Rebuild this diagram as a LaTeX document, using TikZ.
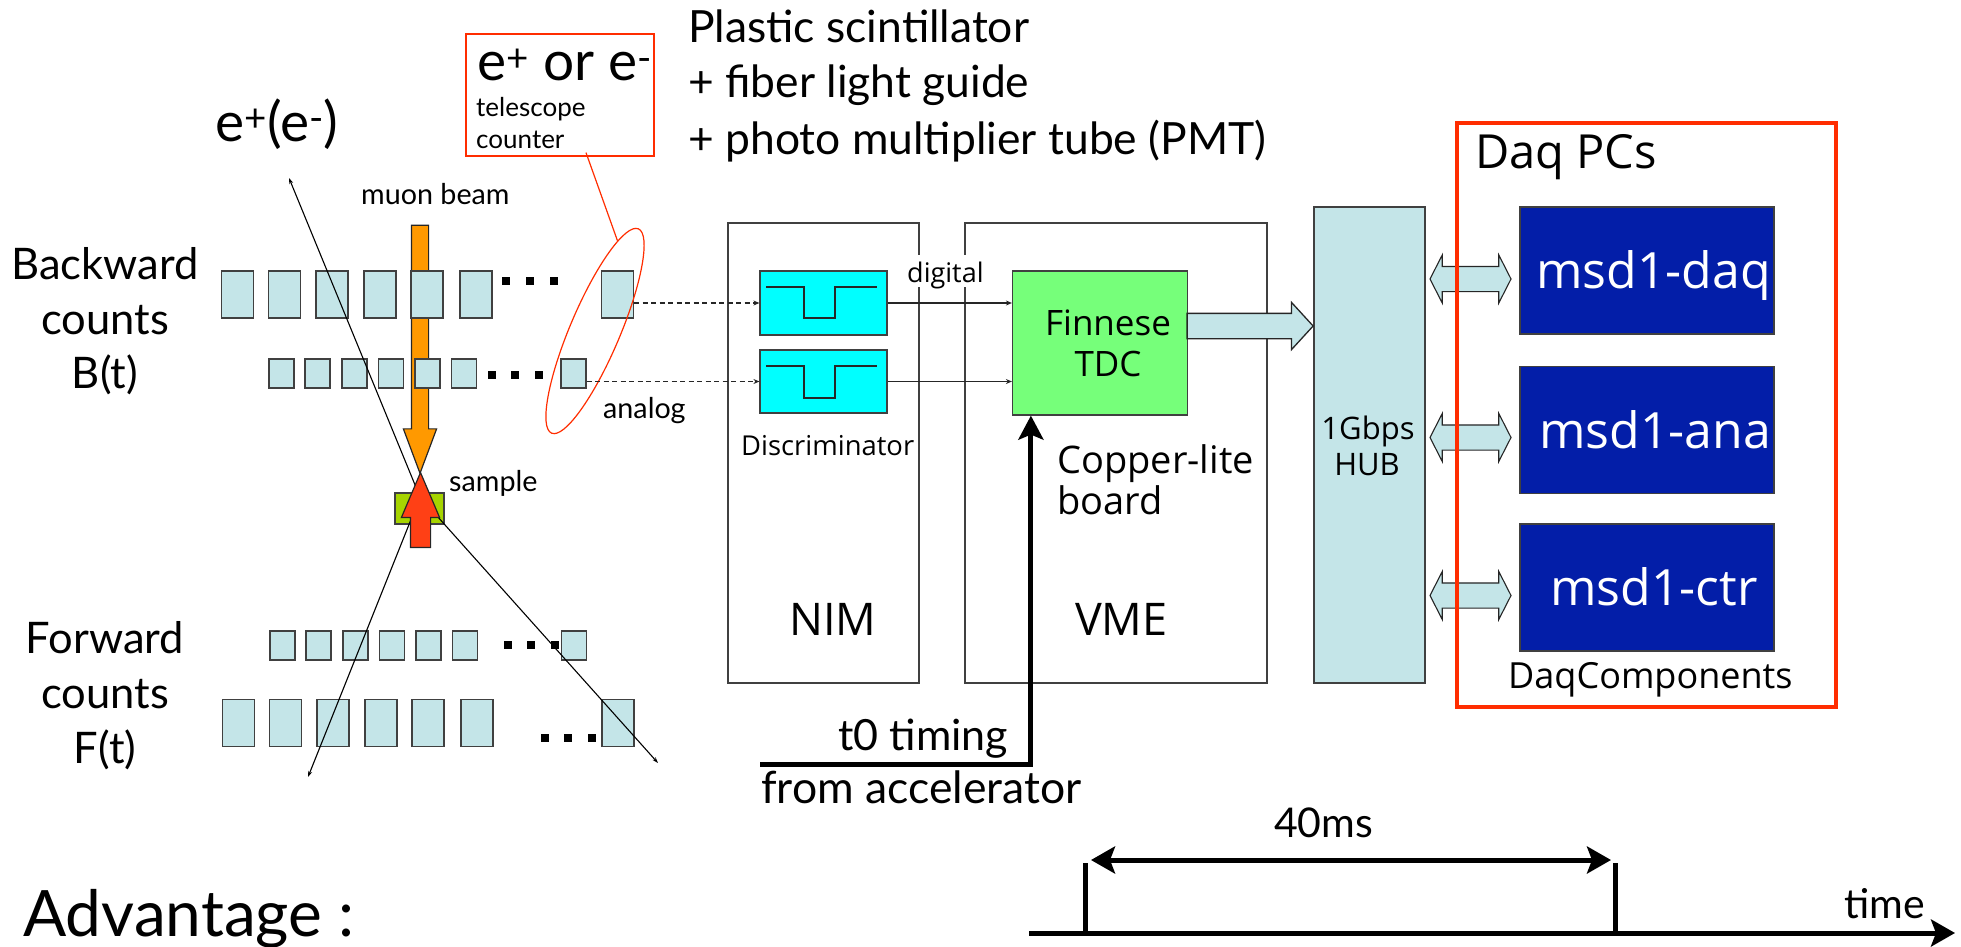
\documentclass[tikz,border=0pt]{standalone}
\usepackage{fontspec}
\setmainfont{Lato}
\newfontfamily\lucfont{Open Sans}
\usetikzlibrary{shapes.geometric, shapes.arrows, arrows.meta, calc, positioning}
\definecolor{cntblue}{HTML}{C4E5E8}
\definecolor{muonorange}{HTML}{FF9900}
\definecolor{muonred}{HTML}{FF4015}
\definecolor{samplegreen}{HTML}{A6D400}
\definecolor{disccyan}{HTML}{00FFFF}
\definecolor{tdcgreen}{HTML}{76FF7A}
\definecolor{pcnavy}{HTML}{031EA8}
\definecolor{boxred}{HTML}{FF2D00}
\newcommand{\pxfont}[1]{\fontsize{#1}{#1}\selectfont}
\tikzset{
  % plain rectangle with a size in reference pixels
  box/.style={draw=black!75, line width=1.2pt, rectangle, inner sep=0pt, minimum width=#1},
  % counter segments
  cntbig/.style={box=32pt, fill=cntblue, minimum height=47pt},
  cntsmall/.style={box=25pt, fill=cntblue, minimum height=29pt},
  cntdot/.style={fill=black, inner sep=0pt, minimum size=8pt},
  % text placed by its baseline
  gill/.style={anchor=base west, inner sep=0pt, font=\pxfont{#1}},
  gillc/.style={anchor=base, inner sep=0pt, font=\pxfont{#1}},
  luc/.style={anchor=base west, inner sep=0pt, font=\lucfont\pxfont{#1}},
  lucc/.style={anchor=base, inner sep=0pt, font=\lucfont\pxfont{#1}},
  % block arrows, inner sep gives half the shaft
  beam/.style={draw=black!85, line width=1.2pt, anchor=tip},
  blockarrow/.style={single arrow, anchor=tip, draw=black!85, fill=cntblue, line width=1.3pt, inner sep=12pt,
    single arrow head extend=11pt, single arrow tip angle=95, minimum height=126pt},
  linkarrow/.style={double arrow, draw=black!85, fill=cntblue, line width=1.1pt, inner sep=12pt,
    double arrow head extend=11.5pt, double arrow tip angle=126, minimum height=81pt},
  % connectors
  track/.style={-{Stealth[length=6pt, width=4pt]}, line width=1.1pt},
  sig/.style={-{Stealth[length=6pt, width=5pt]}, line width=1.1pt, black!85},
  sigdash/.style={sig, dashed, dash pattern=on 5pt off 3.5pt},
  thickline/.style={line width=5pt, line cap=butt},
  pulse/.style={line width=1.4pt, black!85},
}
\begin{document}
\begin{tikzpicture}[x=1pt, y=-1pt]
  \useasboundingbox (0,0) rectangle (1961,947);
  % muon beam, behind the counters
  \node[beam, single arrow, fill=muonorange, shape border rotate=270, inner sep=8pt,
    single arrow head extend=8pt, single arrow tip angle=41, minimum height=248pt] (beamin) at (420,475) {};
  % counter rows
  \foreach \x [count=\i] in {237.5,284.5,332,380,427,476} {
    \node[cntbig] (bb\i) at (\x,294.5) {};
    \node[cntbig] (fb\i) at (\x+1,723) {};
  }
  \node[cntbig] (bbl) at (617.5,294.5) {};
  \node[cntbig] (fbl) at (618,723) {};
  \foreach \x [count=\i] in {281.5,317.5,354.5,391,427.5,464} {
    \node[cntsmall] (bs\i) at (\x,373.5) {};
    \node[cntsmall] (fs\i) at (\x+1,645.5) {};
  }
  \node[cntsmall] (bsl) at (573.5,373.5) {};
  \node[cntsmall] (fsl) at (574,645.5) {};
  \foreach \x/\y [count=\i] in {506/281,530/281,554/281,491.5/375,515/375,539/375,507.5/645,531/645,555/645,544.5/738,568/738,592/738} {
    \node[cntdot] (dot\i) at (\x,\y) {};
  }
  % sample and decay tracks
  \node[box=49pt, fill=samplegreen, minimum height=31pt] (sample) at (419.5,508.5) {};
  \coordinate (vertex) at (420,497);
  \coordinate (endul) at (289,178);
  \coordinate (enddl) at (308,777);
  \coordinate (enddr) at (658,763);
  \draw[track] (vertex) -- (endul);
  \draw[track] (vertex) -- (enddl);
  \draw[track] (vertex) -- (enddr);
  \node[beam, single arrow, fill=muonred, shape border rotate=90, inner sep=9.5pt,
    single arrow head extend=9pt, single arrow tip angle=46, minimum height=75pt] (beamout) at (420.5,471) {};
  % telescope counter callout
  \node[draw=boxred, line width=1.3pt, minimum width=188pt, minimum height=122pt, inner sep=0pt] (telbox) at (560,95) {};
  \node[draw=boxred, line width=1.2pt, ellipse, inner sep=0pt, minimum width=222pt, minimum height=50pt,
    rotate=67] (telring) at (595,331) {};
  \draw[boxred, line width=1.2pt] ([xshift=26pt,yshift=4pt]telbox.south) -- (telring.9);
  \node[gill=55] (teltitle) at (477,81) {e\textsuperscript{+} or e\textsuperscript{-}};
  \node[gill=26] (teltxta) at (476,117) {telescope};
  \node[gill=26] (teltxtb) at (476,149) {counter};
  % left labels
  \node[gill=55] (eplus) at (215,141) {e\textsuperscript{+}(e\textsuperscript{-})};
  \node[gillc=43.5] (backa) at (105,279) {Backward};
  \node[gillc=43.5] (backb) at (105,334) {counts};
  \node[gillc=43.5] (backc) at (105,388) {B(t)};
  \node[gillc=43.5] (fora) at (105,653) {Forward};
  \node[gillc=43.5] (forb) at (105,708) {counts};
  \node[gillc=43.5] (forc) at (105,763) {F(t)};
  \node[gill=64] (adv) at (23,936) {Advantage :};
  \node[gill=28.7] (muon) at (361,204) {muon beam};
  \node[gill=28.7] (analog) at (603,418) {analog};
  \node[gill=28.7] (samptxt) at (449,491) {sample};
  % detector text
  \node[gill=44.4] (plasa) at (688,43) {Plastic scintillator};
  \node[gill=44.4] (plasb) at (688,98) {+ fiber light guide};
  \node[gill=44.4] (plasc) at (688,154) {+ photo multiplier tube (PMT)};
  % crates
  \node[box=191pt, fill=white, minimum height=460pt] (nim) at (823.5,453) {};
  \node[box=302pt, fill=white, minimum height=460pt] (vme) at (1116,453) {};
  \node[luc=45] (nimtxt) at (789,635) {NIM};
  \node[luc=45] (vmetxt) at (1075,635) {VME};
  \node[luc=38] (copa) at (1057,473) {Copper-lite};
  \node[luc=38] (copb) at (1057,514) {board};
  \node[luc=27.4] (disctxt) at (741,455) {Discriminator};
  % discriminators with their pulse sketch
  \node[box=127pt, fill=disccyan, minimum height=64pt] (disca) at (823.5,303) {};
  \node[box=127pt, fill=disccyan, minimum height=63pt] (discb) at (823.5,381.5) {};
  \draw[pulse] (766,287) -- (804,287) -- (804,318) -- (835,318) -- (835,287) -- (877,287);
  \draw[pulse] (766,366) -- (804,366) -- (804,398) -- (835,398) -- (835,366) -- (877,366);
  % tdc
  \node[box=175pt, fill=tdcgreen, minimum height=144pt] (tdc) at (1100,343) {};
  \node[lucc=35] (tdca) at (1108,335) {Finnese};
  \node[lucc=35] (tdcb) at (1108,376) {TDC};
  % signals
  \draw[sigdash] (bbl.east |- disca.west) -- (disca.west);
  \draw[sigdash] (bsl.east |- discb.west) -- (discb.west);
  \node[fill=white, inner sep=0pt, minimum width=75pt, minimum height=32pt] (digbg) at (944.5,271) {};
  \node[luc=27] (digtxt) at (907,282) {digital};
  \draw[sig] (disca.east) -- (disca.east -| tdc.west);
  \draw[sig] (discb.east) -- (discb.east -| tdc.west);
  % hub and pcs
  \node[box=111pt, fill=cntblue, minimum height=476pt] (hub) at (1369.5,445) {};
  \node[lucc=31] (huba) at (1368,439) {1Gbps};
  \node[lucc=31] (hubb) at (1367,475) {HUB};
  \node[blockarrow] (tdcout) at (1314,326) {};
  \foreach \n/\y/\t/\tx in {daq/270.5/msd1-daq/1536, ana/430/msd1-ana/1539, ctr/587.5/msd1-ctr/1550} {
    \node[box=254pt, fill=pcnavy, minimum height=127pt] (pc\n) at (1647,\y) {};
    \node[luc=50, text=white] (txt\n) at (\tx,\y+18) {\t};
  }
  \foreach \n/\y in {daq/279, ana/437.5, ctr/595.5} {
    \node[linkarrow] (link\n) at (1470.5,\y) {};
  }
  \node[draw=boxred, line width=4pt, minimum width=379pt, minimum height=584pt, inner sep=0pt] (daqbox) at (1646.5,415) {};
  \node[luc=47] (daqtxt) at (1475,168) {Daq PCs};
  \node[luc=36] (comptxt) at (1508,688) {DaqComponents};
  % t0 line
  \coordinate (t0start) at (760,764);
  \draw[thickline, -{Stealth[length=24pt, width=25pt, inset=5pt]}] (t0start) -| ([xshift=19pt]tdc.south west);
  \node[gill=43] (t0a) at (838,750) {t0 timing};
  \node[gill=44.5] (t0b) at (761,803) {from accelerator};
  % time axis
  \coordinate (axl) at (1029,933);
  \coordinate (axr) at (1955,933);
  \coordinate (tka) at (1085,933);
  \coordinate (tkb) at (1615,933);
  \coordinate (tkat) at (1085,863);
  \coordinate (tkbt) at (1615,863);
  \coordinate (spa) at (1091,860);
  \coordinate (spb) at (1611,860);
  \draw[thickline, -{Stealth[length=24pt, width=27pt, inset=5pt]}] (axl) -- (axr);
  \draw[thickline] (tka) -- (tkat);
  \draw[thickline] (tkb) -- (tkbt);
  \draw[thickline, {Stealth[length=24pt, width=27pt, inset=5pt]}-{Stealth[length=24pt, width=27pt, inset=5pt]}] (spa) -- (spb);
  \node[gill=41] (spantxt) at (1274,837) {40ms};
  \node[gill=41] (timetxt) at (1844,918) {time};
\end{tikzpicture}
\end{document}
